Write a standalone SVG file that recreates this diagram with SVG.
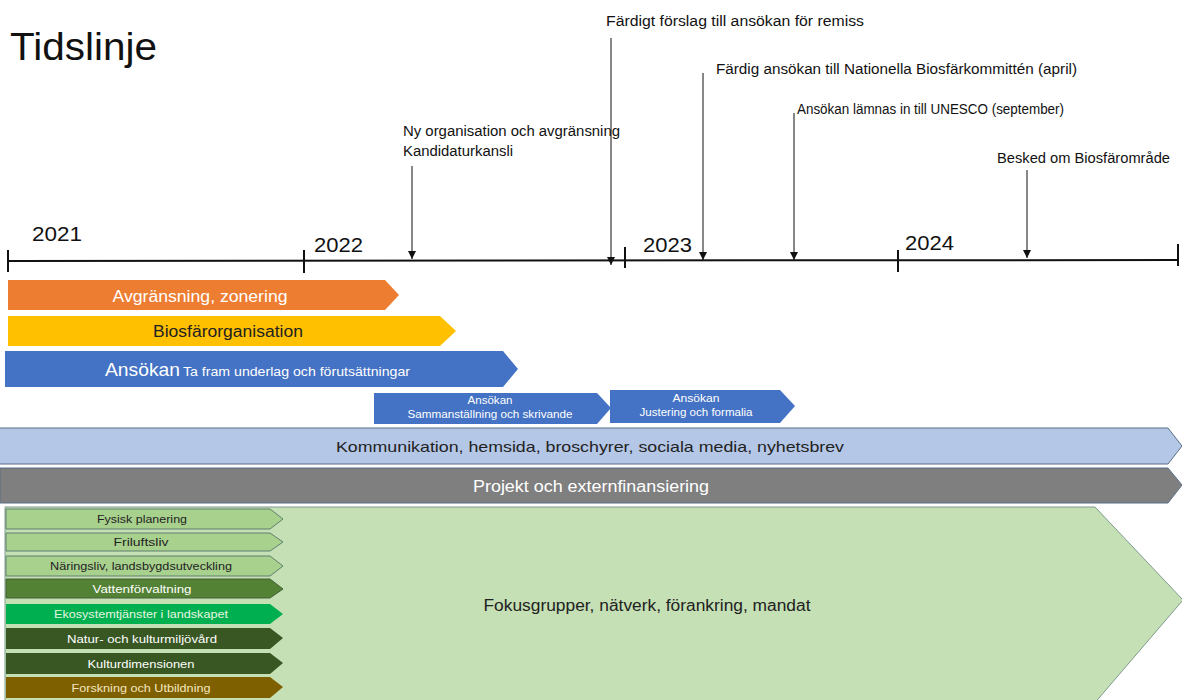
<svg xmlns="http://www.w3.org/2000/svg" width="1182" height="700" viewBox="0 0 1182 700">
<style>
text{font-family:"Liberation Sans",Arial,sans-serif;}
.lbl{font-size:14px;fill:#111;}
.yr{font-size:21px;fill:#111;}
.c{text-anchor:middle;}
.w{fill:#fff;}
.d{fill:#222;}
.sg{font-size:11px;}
.bar{stroke:#5b6f86;stroke-width:1;}
.tick{stroke:#111;stroke-width:2;}
.con{stroke:#111;stroke-width:1;fill:none;marker-end:url(#ah);}
</style>
<defs>
<marker id="ah" viewBox="0 0 10 10" refX="10" refY="5" markerWidth="8" markerHeight="8" markerUnits="userSpaceOnUse" orient="auto">
<path d="M0,0 L10,5 L0,10 Z" fill="#111"/>
</marker>
</defs>
<rect width="1182" height="700" fill="#fff"/>
<text x="10" y="60" style="font-size:38px;fill:#111" textLength="147" lengthAdjust="spacingAndGlyphs">Tidslinje</text>

<g id="timeline">
<line x1="8" y1="261" x2="1178" y2="260" stroke="#111" stroke-width="2"/>
<line class="tick" x1="8" y1="250" x2="8" y2="272"/>
<line class="tick" x1="304" y1="250" x2="304" y2="273"/>
<line class="tick" x1="625" y1="247" x2="625" y2="268"/>
<line class="tick" x1="898" y1="250" x2="898" y2="272"/>
<line class="tick" x1="1178" y1="244" x2="1178" y2="266"/>
<text class="yr" x="32" y="241" textLength="50" lengthAdjust="spacingAndGlyphs">2021</text>
<text class="yr" x="314" y="252" textLength="49" lengthAdjust="spacingAndGlyphs">2022</text>
<text class="yr" x="643" y="252" textLength="49" lengthAdjust="spacingAndGlyphs">2023</text>
<text class="yr" x="905" y="250" textLength="49" lengthAdjust="spacingAndGlyphs">2024</text>
</g>

<g id="connectors">
<line class="con" x1="412" y1="166" x2="412" y2="259"/>
<line class="con" x1="611" y1="38" x2="611" y2="265"/>
<line class="con" x1="703" y1="73" x2="703" y2="260"/>
<line class="con" x1="794" y1="113" x2="794" y2="260"/>
<line class="con" x1="1027" y1="170" x2="1027" y2="258"/>
</g>

<g id="m1"><text class="lbl" x="403" y="136" textLength="217" lengthAdjust="spacingAndGlyphs">Ny organisation och avgränsning</text>
<text class="lbl" x="403" y="156" textLength="110" lengthAdjust="spacingAndGlyphs">Kandidaturkansli</text></g>
<g id="m2"><text class="lbl" x="606" y="26" textLength="258" lengthAdjust="spacingAndGlyphs">Färdigt förslag till ansökan för remiss</text></g>
<g id="m3"><text class="lbl" x="716" y="74" textLength="361" lengthAdjust="spacingAndGlyphs">Färdig ansökan till Nationella Biosfärkommittén  (april)</text></g>
<g id="m4"><text class="lbl" x="797" y="114" textLength="267" lengthAdjust="spacingAndGlyphs">Ansökan lämnas in till UNESCO (september)</text></g>
<g id="m5"><text class="lbl" x="997" y="163" textLength="173" lengthAdjust="spacingAndGlyphs">Besked om  Biosfärområde</text></g>

<g id="avgransning">
<polygon points="8,280 385,280 399,295 385,310 8,310" fill="#ED7D31"/>
<text class="c w" x="200" y="302" style="font-size:16px" textLength="175" lengthAdjust="spacingAndGlyphs">Avgränsning, zonering</text>
</g>
<g id="biosfarorganisation">
<polygon points="8,316 440,316 456,331 440,346 8,346" fill="#FFC000"/>
<text class="c d" x="228" y="337" style="font-size:16px" textLength="150" lengthAdjust="spacingAndGlyphs">Biosfärorganisation</text>
</g>
<g id="ansokan1">
<polygon points="5,351 503,351 518,369 503,387 5,387" fill="#4472C4"/>
<text x="105" y="376" class="w" style="font-size:19px" textLength="75" lengthAdjust="spacingAndGlyphs">Ansökan</text>
<text x="183" y="376" class="w" style="font-size:13px" textLength="227" lengthAdjust="spacingAndGlyphs">Ta fram underlag och  förutsättningar</text>
</g>
<g id="ansokan2">
<polygon points="374,393 597,393 611,408 597,424 374,424" fill="#4472C4"/>
<text class="c w" x="490" y="404" style="font-size:10px" textLength="45" lengthAdjust="spacingAndGlyphs">Ansökan</text>
<text class="c w" x="490" y="418" style="font-size:10px" textLength="165" lengthAdjust="spacingAndGlyphs">Sammanställning och skrivande</text>
</g>
<g id="ansokan3">
<polygon points="610,390 780,390 795,406 780,423 610,423" fill="#4472C4"/>
<text class="c w" x="696" y="402" style="font-size:10px" textLength="47" lengthAdjust="spacingAndGlyphs">Ansökan</text>
<text class="c w" x="696" y="416" style="font-size:10px" textLength="113" lengthAdjust="spacingAndGlyphs">Justering och formalia</text>
</g>
<g id="kommunikation">
<polygon class="bar" points="-1,428 1168,428 1182,446 1168,464 -1,464" fill="#B4C7E7" stroke="#8497B0"/>
<text class="c d" x="590" y="452" style="font-size:15px" textLength="508" lengthAdjust="spacingAndGlyphs">Kommunikation, hemsida, broschyrer, sociala media, nyhetsbrev</text>
</g>
<g id="projekt">
<polygon class="bar" points="0,468 1168,468 1182,485 1168,503 0,503" fill="#7F7F7F" stroke="#4D5A6B"/>
<text class="c w" x="591" y="492" style="font-size:16px" textLength="236" lengthAdjust="spacingAndGlyphs">Projekt och externfinansiering</text>
</g>
<g id="fokus">
<polygon points="5,507 1095,507 1183,600 1093,705 5,705" fill="#C5E0B4" stroke="#7F9A8F" stroke-width="1"/>
<text class="c d" x="647" y="611" style="font-size:16px" textLength="327" lengthAdjust="spacingAndGlyphs">Fokusgrupper, nätverk, förankring, mandat</text>
</g>

<g id="fysisk">
<polygon points="6,509 270,509 283,519 270,529 6,529" fill="#A9D18E" stroke="#5f7f6f"/>
<text class="c d sg" x="142" y="523" textLength="90" lengthAdjust="spacingAndGlyphs">Fysisk planering</text>
</g>
<g id="friluftsliv">
<polygon points="6,533 270,533 283,542 270,551 6,551" fill="#A9D18E" stroke="#5f7f6f"/>
<text class="c d sg" x="141" y="546" textLength="55" lengthAdjust="spacingAndGlyphs">Friluftsliv</text>
</g>
<g id="naringsliv">
<polygon points="6,556 270,556 283,566 270,576 6,576" fill="#A9D18E" stroke="#5f7f6f"/>
<text class="c d sg" x="141" y="570" textLength="182" lengthAdjust="spacingAndGlyphs">Näringsliv, landsbygdsutveckling</text>
</g>
<g id="vatten">
<polygon points="6,579 270,579 283,589 270,598 6,598" fill="#548235" stroke="#44603a"/>
<text class="c w sg" x="142" y="593" textLength="99" lengthAdjust="spacingAndGlyphs">Vattenförvaltning</text>
</g>
<g id="ekosystem">
<polygon points="6,604 270,604 283,614 270,624 6,624" fill="#00B050"/>
<text class="c sg" x="141" y="618" style="fill:#e8f5e0" textLength="174" lengthAdjust="spacingAndGlyphs">Ekosystemtjänster i landskapet</text>
</g>
<g id="natur">
<polygon points="6,628 270,628 283,638 270,649 6,649" fill="#385723"/>
<text class="c w sg" x="142" y="643" textLength="150" lengthAdjust="spacingAndGlyphs">Natur- och kulturmiljövård</text>
</g>
<g id="kultur">
<polygon points="6,653 270,653 283,663 270,674 6,674" fill="#385723"/>
<text class="c w sg" x="141" y="668" textLength="107" lengthAdjust="spacingAndGlyphs">Kulturdimensionen</text>
</g>
<g id="forskning">
<polygon points="6,677 270,677 283,687 270,698 6,698" fill="#7F6000"/>
<text class="c sg" x="141" y="692" style="fill:#f3e6c0" textLength="139" lengthAdjust="spacingAndGlyphs">Forskning och Utbildning</text>
</g>
</svg>
